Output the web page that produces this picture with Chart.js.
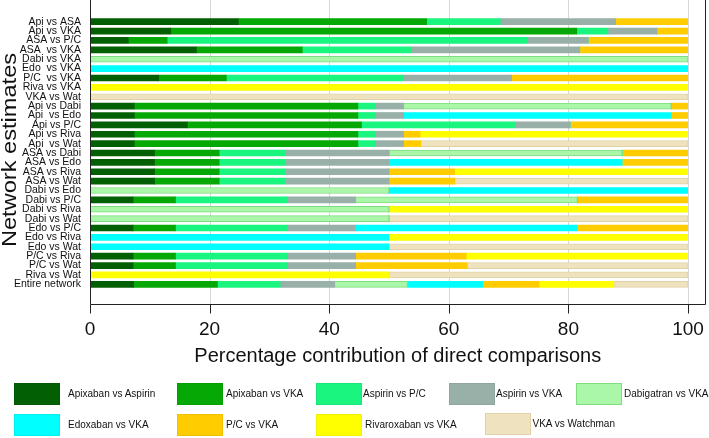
<!DOCTYPE html>
<html>
<head>
<meta charset="utf-8">
<script src="https://cdn.jsdelivr.net/npm/chart.js@4"></script>
<style>
  html, body { margin: 0; padding: 0; background: #fff; }
  #wrap { position: relative; width: 709px; height: 438px; }
  #legend .box { position: absolute; width: 46px; height: 22px; box-sizing: border-box; border: 1px solid rgba(0,0,0,0.06); }
  #legend .txt { position: absolute; font: 10px "Liberation Sans", Arial, sans-serif; color: #111; white-space: nowrap; line-height: 12px; }
</style>
</head>
<body>
<div id="wrap">
  <canvas id="chart" width="709" height="438"></canvas>
  <div id="legend"></div>
</div>
<script>
// --- datos --- //
const rowLabels = [
  'Api vs ASA', 'Api vs VKA', 'ASA vs P/C', 'ASA  vs VKA', 'Dabi vs VKA', 'Edo  vs VKA',
  'P/C  vs VKA', 'Riva vs VKA', 'VKA vs Wat', 'Api vs Dabi', 'Api  vs Edo', 'Api vs P/C',
  'Api vs Riva', 'Api  vs Wat', 'ASA vs Dabi', 'ASA vs Edo', 'ASA vs Riva', 'ASA vs Wat',
  'Dabi vs Edo', 'Dabi vs P/C', 'Dabi vs Riva', 'Dabi vs Wat', 'Edo vs P/C', 'Edo vs Riva',
  'Edo vs Wat', 'P/C vs Riva', 'P/C vs Wat', 'Riva vs Wat', 'Entire network'
];

const seriesNames = [
  'Apixaban vs Aspirin', 'Apixaban vs VKA', 'Aspirin vs P/C', 'Aspirin vs VKA', 'Dabigatran vs VKA',
  'Edoxaban vs VKA', 'P/C vs VKA', 'Rivaroxaban vs VKA', 'VKA vs Watchman'
];

const apiAsa  = [24.8, 13.5, 6.4, 17.8, 0, 0, 11.5, 0, 0, 7.4, 7.4, 16.3, 7.4, 7.4, 10.8, 10.8, 10.8, 10.8, 0, 7.2, 0, 0, 7.2, 0, 0, 7.2, 7.2, 0, 7.3];
const apiVka  = [31.5, 67.9, 6.5, 17.7, 0, 0, 11.3, 0, 0, 37.4, 37.4, 29.1, 37.4, 37.4, 10.8, 10.8, 10.8, 10.8, 0, 7.1, 0, 0, 7.1, 0, 0, 7.1, 7.1, 0, 14.0];
const asaPc   = [12.3, 5.2, 60.3, 18.2, 0, 0, 29.6, 0, 0, 2.9, 2.9, 25.6, 2.9, 2.9, 11.1, 11.1, 11.1, 11.1, 0, 18.7, 0, 0, 18.7, 0, 0, 18.7, 18.7, 0, 10.5];
const asaVka  = [19.3, 8.2, 10.1, 28.2, 0, 0, 18.1, 0, 0, 4.7, 4.7, 9.3, 4.7, 4.7, 17.3, 17.3, 17.3, 17.3, 0, 11.4, 0, 0, 11.4, 0, 0, 11.4, 11.4, 0, 9.1];
const dabiVka = [0, 0, 0, 0, 100, 0, 0, 0, 0, 44.8, 0, 0, 0, 0, 39.0, 0, 0, 0, 50, 37.1, 50, 50, 0, 0, 0, 0, 0, 0, 12.2];
const edoVka  = [0, 0, 0, 0, 0, 100, 0, 0, 0, 0, 44.8, 0, 0, 0, 0, 39.0, 0, 0, 50, 0, 0, 0, 37.1, 50, 50, 0, 0, 0, 12.6];
const pcVka   = [12.1, 5.2, 16.7, 18.1, 0, 0, 29.5, 0, 0, 2.8, 2.8, 19.7, 2.8, 2.9, 11.0, 11.0, 11.0, 11.0, 0, 18.5, 0, 0, 18.5, 0, 0, 18.5, 18.7, 0, 9.4];
const rivaVka = [0, 0, 0, 0, 0, 0, 0, 100, 0, 0, 0, 0, 44.8, 0, 0, 0, 39.0, 0, 0, 0, 50, 0, 0, 50, 0, 37.1, 0, 50, 12.5];
const vkaWat  = [0, 0, 0, 0, 0, 0, 0, 0, 100, 0, 0, 0, 0, 44.7, 0, 0, 0, 39.0, 0, 0, 0, 50, 0, 0, 50, 0, 36.9, 50, 12.4];

const xTicks = [0, 20, 40, 60, 80, 100];

// --- estilo --- //
const fills   = ['#035f03', '#05a805', '#1af580', '#99b0a9', '#aaf7aa', '#00ffff', '#ffcc00', '#ffff00', '#efe3bf'];
const borders = [null, null, null, null, '#7fdc7f', null, null, null, '#e0d2a6'];
const font = '"Liberation Sans", Arial, sans-serif';

// caja + texto de cada leyenda: [x caja, y caja, x texto]
const legendSpots = [
  [13.5, 383, 68], [177, 383, 226], [316, 383, 363], [449, 383, 496], [576, 383, 624],
  [13.5, 414, 68], [177, 414, 226], [316, 414, 365], [485, 413, 532.5]
];

const seriesValues = [apiAsa, apiVka, asaPc, asaVka, dabiVka, edoVka, pcVka, rivaVka, vkaWat];

const datasets = seriesValues.map((vals, i) => ({
  label: seriesNames[i],
  data: vals,
  backgroundColor: fills[i],
  borderColor: borders[i] || fills[i],
  borderWidth: borders[i] ? 1 : 0,
  borderSkipped: false,
  barThickness: 6
}));

// Ejes, rejilla y títulos dibujados a mano
const framePlugin = {
  id: 'frame',
  beforeDatasetsDraw(chart) {
    const { ctx, chartArea, scales: { x } } = chart;
    const axisY = chartArea.bottom + 15;
    ctx.save();
    ctx.strokeStyle = '#d6d6d6';
    ctx.lineWidth = 1;
    xTicks.forEach(v => {
      if (v === 0) return;
      const px = Math.round(x.getPixelForValue(v)) + 0.5;
      ctx.beginPath(); ctx.moveTo(px, 0); ctx.lineTo(px, axisY); ctx.stroke();
    });
    ctx.restore();
  },
  afterDraw(chart) {
    const { ctx, chartArea, scales: { x } } = chart;
    const axisY = chartArea.bottom + 15.5;
    const left = Math.round(chartArea.left) + 0.5;
    const rightEdge = Math.round(chartArea.right) + 17.5;
    ctx.save();
    ctx.strokeStyle = '#222';
    ctx.lineWidth = 1;
    ctx.beginPath();
    ctx.moveTo(left, 0); ctx.lineTo(left, axisY);
    ctx.lineTo(rightEdge, axisY); ctx.lineTo(rightEdge, 0);
    ctx.stroke();
    xTicks.forEach(v => {
      const px = Math.round(x.getPixelForValue(v)) + 0.5;
      ctx.beginPath(); ctx.moveTo(px, axisY); ctx.lineTo(px, axisY + 9); ctx.stroke();
    });

    ctx.fillStyle = '#111';
    ctx.font = '20px ' + font;
    ctx.textAlign = 'center';
    ctx.textBaseline = 'alphabetic';
    ctx.fillText('Percentage contribution of direct comparisons', (chartArea.left + rightEdge) / 2, 362);

    ctx.translate(15.7, 150);
    ctx.rotate(-Math.PI / 2);
    ctx.scale(1.18, 1);
    ctx.fillText('Network estimates', 0, 0);
    ctx.restore();
  }
};

new Chart(document.getElementById('chart'), {
  type: 'bar',
  data: { labels: rowLabels, datasets },
  plugins: [framePlugin],
  options: {
    indexAxis: 'y',
    responsive: false,
    animation: false,
    devicePixelRatio: 1,
    layout: { padding: { top: 17, right: 21, left: 0, bottom: 0 } },
    plugins: { legend: { display: false }, tooltip: { enabled: false } },
    scales: {
      x: {
        type: 'linear',
        stacked: true,
        min: 0,
        max: 100,
        afterFit: s => { s.height = 149; s.paddingLeft = 0; s.paddingRight = 0; },
        grid: { display: false, drawTicks: false },
        border: { display: false },
        ticks: {
          stepSize: 20,
          maxRotation: 0,
          padding: 29,
          color: '#111',
          font: { family: font, size: 19 }
        }
      },
      y: {
        stacked: true,
        afterFit: s => { s.width = 90; s.paddingTop = 0; s.paddingBottom = 0; },
        grid: { display: false, drawTicks: false },
        border: { display: false },
        ticks: {
          autoSkip: false,
          padding: 9,
          color: '#111',
          font: { family: font, size: 10.5 }
        }
      }
    }
  }
});

// Leyenda en HTML
const legendEl = document.getElementById('legend');
seriesNames.forEach((name, i) => {
  const [bx, by, tx] = legendSpots[i];
  const box = document.createElement('div');
  box.className = 'box';
  box.style.left = bx + 'px';
  box.style.top = by + 'px';
  box.style.background = fills[i];
  if (borders[i]) box.style.borderColor = borders[i];
  const txt = document.createElement('div');
  txt.className = 'txt';
  txt.style.left = tx + 'px';
  txt.style.top = (by + 5) + 'px';
  txt.textContent = name;
  legendEl.appendChild(box);
  legendEl.appendChild(txt);
});
</script>
</body>
</html>
